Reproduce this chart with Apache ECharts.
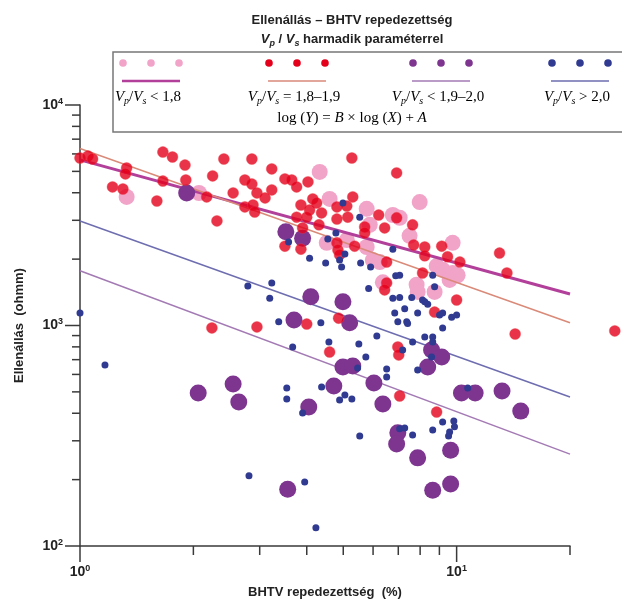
<!DOCTYPE html>
<html><head><meta charset="utf-8">
<script src="https://cdn.jsdelivr.net/npm/echarts@6/dist/echarts.min.js"></script>
<style>html,body{margin:0;padding:0;background:#fff}#c{width:622px;height:605px}</style>
</head><body><div id="c"></div>
<script>
// ---- data (x: BHTV repedezettség %, y: Ellenállás ohmm) ----
const pinkPoints = [[1.33,3830],[2.07,3990],[4.33,4970],[4.60,3750],[5.77,3380],[6.77,3170],[7.50,2550],[7.98,3630],[5.88,2860],[4.52,2370],[5.11,2440],[5.77,2270],[5.99,1980],[6.25,1940],[6.37,1570],[8.85,1860],[9.76,2370],[9.18,1790],[9.76,1730],[10.06,1690],[9.58,1610],[7.83,1530],[7.88,1420],[8.74,1420],[7.06,3080]];
const redPoints = [[1.00,5750],[1.05,5870],[1.08,5690],[1.66,6120],[1.76,5810],[1.90,5340],[2.41,5690],[2.86,5690],[1.33,5180],[1.32,4870],[3.23,5130],[1.66,4520],[1.91,4570],[2.25,4770],[2.74,4570],[2.86,4380],[1.22,4250],[1.30,4160],[2.55,3990],[2.95,3990],[3.23,4120],[2.17,3830],[3.10,3790],[1.60,3670],[2.74,3450],[2.88,3520],[2.91,3270],[2.31,2980],[2.24,975],[2.95,985],[5.27,5750],[6.93,4920],[3.50,4620],[3.65,4570],[3.76,4250],[4.03,4480],[4.15,3750],[4.25,3590],[5.30,3830],[3.86,3520],[4.81,3450],[5.11,3480],[4.07,3340],[4.38,3240],[3.76,3100],[4.00,3100],[4.81,3040],[5.14,3100],[6.21,3170],[6.93,3080],[4.31,2860],[3.90,2770],[5.70,2800],[5.70,2630],[6.44,2770],[7.64,2860],[3.50,2290],[3.86,2220],[4.81,2370],[4.84,2200],[5.36,2290],[4.89,2090],[7.69,2320],[8.23,2270],[8.23,2070],[6.52,1940],[8.12,1730],[6.52,1560],[9.13,2290],[9.46,2050],[10.2,1940],[13.0,2130],[13.6,1730],[10.0,1305],[8.74,1150],[14.3,915],[26.3,945],[6.44,1450],[4.00,1015],[4.86,1080],[4.60,758],[6.98,799],[7.02,735],[7.06,479],[8.85,405]];
const purplePoints = [[1.92,3990],[3.52,2660],[3.90,2490],[4.10,1350],[4.99,1280],[3.70,1060],[5.20,1030],[4.99,648],[5.30,655],[4.72,532],[6.03,548],[6.37,441],[4.05,427],[6.98,326],[6.93,290],[7.88,251],[3.56,181],[8.64,179],[9.64,191],[8.58,774],[9.13,720],[8.38,648],[10.3,494],[11.2,494],[13.2,505],[14.8,409],[9.64,272],[2.06,494],[2.55,543],[2.64,450]];
const bluePoints = [[1.00,1140],[1.165,662],[2.79,1510],[3.23,1560],[3.19,1330],[2.81,208],[4.99,3590],[5.53,3100],[4.78,2630],[4.55,2470],[3.58,2390],[5.05,2110],[4.07,2020],[4.49,1920],[4.89,1980],[4.95,1840],[5.56,1920],[5.91,1840],[6.77,2220],[6.89,1680],[8.64,1690],[8.74,1500],[5.84,1470],[6.77,1330],[7.06,1340],[7.60,1340],[8.12,1305],[8.38,1250],[7.28,1190],[7.88,1140],[7.37,1040],[6.98,1040],[9.01,1115],[9.18,1140],[9.70,1090],[10.0,1115],[9.18,975],[8.23,887],[8.64,887],[8.64,842],[6.85,1140],[7.06,1690],[3.37,1040],[4.36,1030],[3.67,799],[4.58,842],[5.50,824],[6.14,896],[5.74,720],[5.46,641],[6.52,635],[6.52,584],[3.54,521],[3.54,464],[4.38,526],[5.05,484],[4.89,459],[5.27,464],[3.90,401],[5.53,315],[3.95,195],[4.23,121],[7.64,842],[7.19,774],[8.58,720],[7.88,628],[7.06,340],[7.28,343],[7.64,319],[8.64,336],[9.18,365],[9.83,369],[9.87,347],[9.58,329],[9.52,315],[10.7,521],[7.41,1020],[8.23,1280]];
// regression lines (end points)
const fitPink = [[1,5640],[20,1390]];
const fitRed = [[1,6350],[20,1030]];
const fitPurple = [[1,1770],[20,261]];
const fitBlue = [[1,2980],[20,474]];
// axis ticks
const xTicks = [1,2,3,4,5,6,7,8,9,10,20];
const yTicks = [100,200,300,400,500,600,700,800,900,1000,2000,3000,4000,5000,6000,7000,8000,9000,10000];
const legendLabels = ['< 1,8', '= 1,8–1,9', '< 1,9–2,0', '> 2,0'];

const SANS = 'Liberation Sans, Arial, sans-serif';
const SERIF = 'Liberation Serif, Times New Roman, serif';
const AX = '#3a3a3a';
const C = {pink:'#f2a3c8', red:'#e4001b', purple:'#7d3590', blue:'#2f3a90',
  lPink:'#b2409a', lRed:'#d98a78', lPurple:'#a37ab4', lBlue:'#6e6db0'};

function isMajor(v){ const l=Math.log10(v); return Math.abs(l-Math.round(l))<1e-6; }
function powLabel(v){ if(!isMajor(v)) return ''; return '{b|10}{s|'+Math.round(Math.log10(v))+'}'; }
const powRich = {b:{fontFamily:SANS,fontWeight:'bold',fontSize:14,color:'#222',lineHeight:16,verticalAlign:'middle'},
  s:{fontFamily:SANS,fontWeight:'bold',fontSize:9,color:'#222',lineHeight:10,verticalAlign:'top'}};

const chart = echarts.init(document.getElementById('c'), null, {renderer:'canvas'});

function serRich(){ return {
  i:{fontFamily:SERIF,fontStyle:'italic',fontSize:15,color:'#222',lineHeight:18,verticalAlign:'middle'},
  sub:{fontFamily:SERIF,fontStyle:'italic',fontSize:10,color:'#222',lineHeight:10,verticalAlign:'bottom'},
  n:{fontFamily:SERIF,fontSize:15,color:'#222',lineHeight:18,verticalAlign:'middle'}}; }

const legendGroups = [
  {cx:151, dot:C.pink, line:C.lPink, lw:2.5},
  {cx:297, dot:C.red, line:C.lRed, lw:1.5},
  {cx:441, dot:C.purple, line:C.lPurple, lw:1.5},
  {cx:580, dot:C.blue, line:C.lBlue, lw:1.5}
];
const graphics = [
  {type:'text', x:352, y:20, style:{text:'Ellenállás – BHTV repedezettség', font:'bold 13px '+SANS, fill:'#222', align:'center', verticalAlign:'middle'}},
  {type:'text', x:352, y:39, style:{text:'{bi|V}{bs|p}{b| / }{bi|V}{bs|s}{b| harmadik paraméterrel}', align:'center', verticalAlign:'middle',
    rich:{b:{fontFamily:SANS,fontWeight:'bold',fontSize:13,fill:'#222',lineHeight:18,verticalAlign:'middle'},
          bi:{fontFamily:SANS,fontWeight:'bold',fontStyle:'italic',fontSize:13,fill:'#222',lineHeight:18,verticalAlign:'middle'},
          bs:{fontFamily:SANS,fontWeight:'bold',fontStyle:'italic',fontSize:9,fill:'#222',lineHeight:10,verticalAlign:'bottom'}}}},
  {type:'rect', shape:{x:113,y:52,width:530,height:80}, style:{fill:'#fff', stroke:'#777', lineWidth:1.5}, z:10},
  {type:'text', x:352, y:118, z:11, style:{text:'{n|log (}{i|Y}{n|) = }{i|B}{n| × log (}{i|X}{n|) + }{i|A}', align:'center', verticalAlign:'middle', rich:serRich()}}
];
legendGroups.forEach((g,k)=>{
  [-28,0,28].forEach(dx=>graphics.push({type:'circle', z:11, shape:{cx:g.cx+dx, cy:63, r:3.8}, style:{fill:g.dot}}));
  graphics.push({type:'line', z:11, shape:{x1:g.cx-29,y1:81,x2:g.cx+29,y2:81}, style:{stroke:g.line, lineWidth:g.lw}});
  graphics.push({type:'text', z:11, x:g.cx-3, y:97, style:{text:'{i|V}{sub|p}{n|/}{i|V}{sub|s}{n| '+legendLabels[k]+'}', align:'center', verticalAlign:'middle', rich:serRich()}});
});

function scatter(data, color, size, z, extra){
  return Object.assign({type:'scatter', data, symbol:'circle', symbolSize:size, clip:false, z, silent:true,
    itemStyle:{color, opacity:1}}, extra||{});
}
function fitLine(data, color, width, z){
  return {type:'line', data, symbol:'none', silent:true, z, lineStyle:{color, width}};
}

chart.setOption({
  animation:false,
  backgroundColor:'#fff',
  grid:{left:80, right:52, top:105, bottom:59, containLabel:false},
  xAxis:{type:'log', logBase:10, min:1, max:20,
    name:'BHTV repedezettség  (%)', nameLocation:'middle', nameGap:40,
    nameTextStyle:{fontFamily:SANS, fontWeight:'bold', fontSize:13, color:'#222'},
    axisLine:{show:true, onZero:false, lineStyle:{color:AX, width:1.5}},
    axisTick:{show:false}, splitLine:{show:false}, minorTick:{show:false},
    axisLabel:{show:true, margin:18, formatter:powLabel, rich:powRich, showMaxLabel:false}},
  yAxis:{type:'log', logBase:10, min:100, max:10000,
    name:'Ellenállás  (ohmm)', nameLocation:'middle', nameGap:54,
    nameTextStyle:{fontFamily:SANS, fontWeight:'bold', fontSize:13, color:'#222'},
    axisLine:{show:true, onZero:false, lineStyle:{color:AX, width:1.5}},
    axisTick:{show:false}, splitLine:{show:false},
    axisLabel:{show:true, margin:17, formatter:powLabel, rich:powRich}},
  graphic:graphics,
  series:[
    {type:'custom', coordinateSystem:'cartesian2d', silent:true, clip:false, z:1,
      data:xTicks.map(v=>[v,100]),
      renderItem:(p,api)=>{const v=api.value(0); const pt=api.coord([v,100]); const len=isMajor(v)?16:9;
        return {type:'line', shape:{x1:pt[0],y1:pt[1],x2:pt[0],y2:pt[1]+len}, style:{stroke:AX,lineWidth:1.5}};}},
    {type:'custom', coordinateSystem:'cartesian2d', silent:true, clip:false, z:1,
      data:yTicks.map(v=>[1,v]),
      renderItem:(p,api)=>{const v=api.value(1); const pt=api.coord([1,v]); const len=isMajor(v)?15:8;
        return {type:'line', shape:{x1:pt[0]-len,y1:pt[1],x2:pt[0],y2:pt[1]}, style:{stroke:AX,lineWidth:1.5}};}},
    scatter(pinkPoints, C.pink, 16, 2),
    fitLine(fitPink, C.lPink, 3, 3),
    fitLine(fitRed, C.lRed, 1.5, 3),
    fitLine(fitPurple, C.lPurple, 1.5, 3),
    fitLine(fitBlue, C.lBlue, 1.5, 3),
    scatter(purplePoints, C.purple, 17, 4),
    scatter(redPoints, C.red, 11, 5, {itemStyle:{color:C.red, borderColor:'rgba(240,60,70,0.45)', borderWidth:1}}),
    scatter(bluePoints, C.blue, 7, 6)
  ]
});
</script></body></html>
